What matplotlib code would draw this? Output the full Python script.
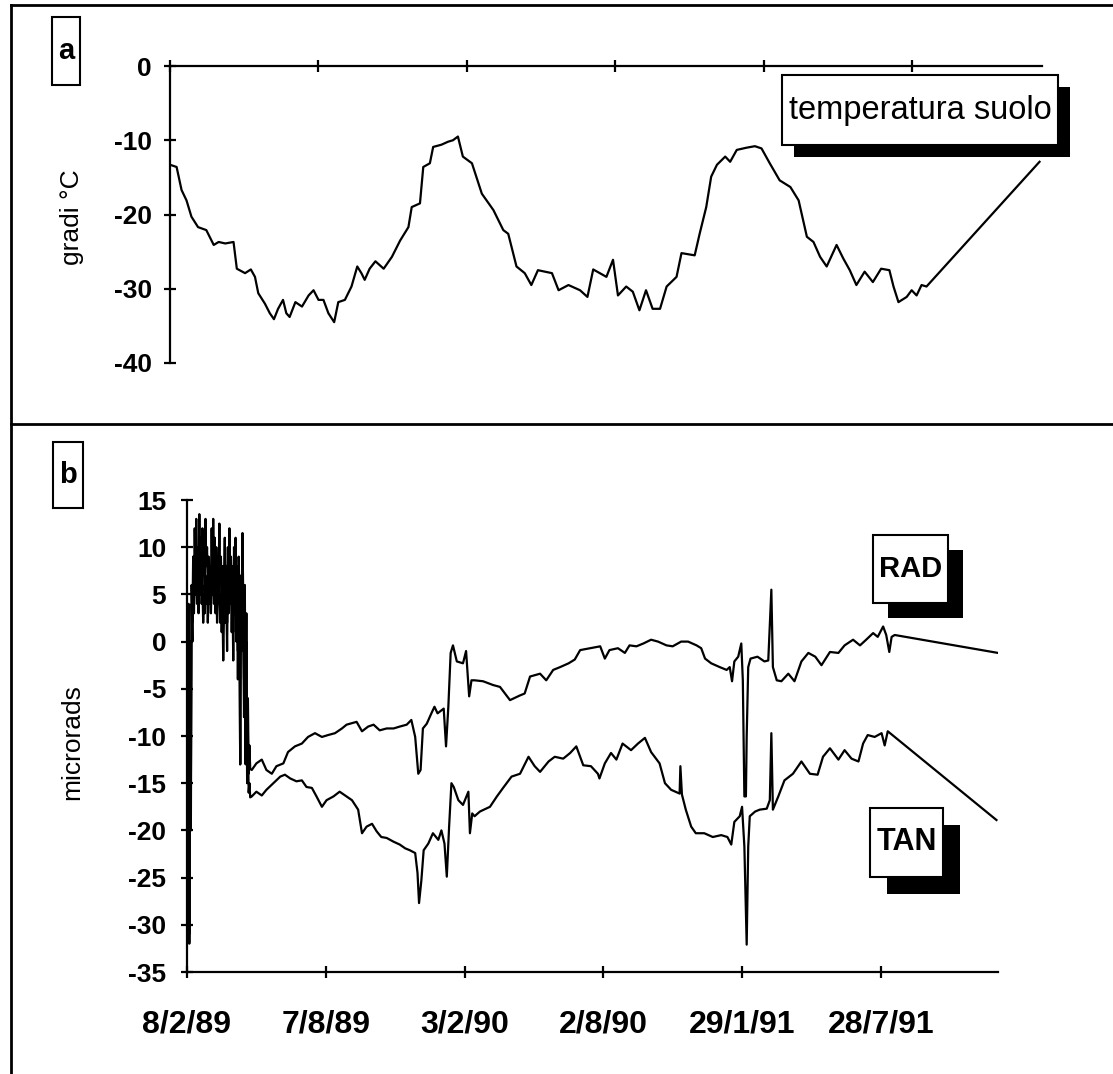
import matplotlib
matplotlib.use('Agg')
import matplotlib.pyplot as plt
from matplotlib.patches import Rectangle
from matplotlib.lines import Line2D

plt.rcParams['font.family'] = ['Liberation Sans', 'DejaVu Sans']
plt.rcParams['axes.unicode_minus'] = False

# ---------------- data (days since 8/2/89) ----------------
tick_days = [0, 180, 360, 540, 720, 900]
tick_labels = ['8/2/89', '7/8/89', '3/2/90', '2/8/90', '29/1/91', '28/7/91']
temp_ticks = [0, -10, -20, -30, -40]
micro_ticks = [15, 10, 5, 0, -5, -10, -15, -20, -25, -30, -35]

temp_day = [0, 8, 14, 20, 26, 34, 44, 53, 59, 67,
            77, 81, 91, 98, 103, 107, 115, 121, 126, 131,
            137, 141, 145, 152, 160, 168, 174, 180, 186, 192,
            199, 204, 212, 220, 227, 232, 236, 242, 249, 259,
            269, 279, 289, 293, 303, 307, 315, 319, 329, 337,
            343, 349, 355, 366, 378, 392, 404, 410, 420, 430,
            438, 446, 463, 471, 483, 497, 506, 513, 521, 529,
            537, 543, 553, 561, 569, 577, 585, 594, 602, 614,
            620, 636, 642, 650, 656, 663, 673, 679, 687, 699,
            709, 717, 727, 739, 752, 762, 772, 780, 788, 796,
            808, 816, 824, 832, 842, 852, 862, 872, 877, 883,
            893, 899, 905, 911, 917, 1054]
temp_val = [-13.3, -13.6, -16.7, -18.1, -20.3, -21.7, -22.1, -24.1, -23.7, -23.9,
            -23.7, -27.3, -27.9, -27.4, -28.4, -30.6, -32.0, -33.3, -34.1, -32.7,
            -31.5, -33.3, -33.8, -31.8, -32.4, -30.9, -30.2, -31.5, -31.5, -33.3,
            -34.5, -31.8, -31.5, -29.7, -27.0, -27.9, -28.8, -27.3, -26.3, -27.3,
            -25.7, -23.5, -21.7, -19.0, -18.5, -13.6, -13.1, -10.9, -10.6, -10.2,
            -10.0, -9.5, -12.2, -13.1, -17.2, -19.4, -22.1, -22.6, -27.0, -27.9,
            -29.5, -27.5, -27.9, -30.2, -29.5, -30.2, -31.1, -27.4, -27.9, -28.4,
            -26.1, -30.9, -29.7, -30.4, -32.9, -30.2, -32.7, -32.7, -29.7, -28.4,
            -25.2, -25.5, -22.6, -19.0, -14.9, -13.3, -12.2, -12.9, -11.3, -11.0,
            -10.8, -11.1, -13.1, -15.4, -16.3, -18.1, -23.0, -23.7, -25.7, -27.0,
            -24.1, -25.9, -27.5, -29.5, -27.7, -29.1, -27.3, -27.5, -29.7, -31.8,
            -31.1, -30.2, -30.9, -29.5, -29.7, -12.9]

rad_day = [0, 1, 2, 3, 4, 5, 6, 7, 8, 9,
           10, 11, 12, 13, 14, 15, 16, 17, 18, 19,
           20, 21, 22, 23, 24, 25, 26, 27, 28, 29,
           30, 31, 32, 33, 34, 35, 36, 37, 38, 39,
           40, 41, 42, 43, 44, 45, 46, 47, 48, 49,
           50, 51, 52, 53, 54, 55, 56, 57, 58, 59,
           60, 61, 62, 63, 64, 65, 66, 67, 68, 69,
           70, 71, 72, 73, 74, 75, 76, 77, 78, 79,
           80, 81, 82, 84, 90, 97, 103, 110, 116, 125,
           131, 140, 149, 157, 166, 175, 183, 192, 201, 207,
           220, 227, 235, 242, 250, 259, 268, 276, 285, 291,
           296, 300, 303, 306, 311, 317, 321, 325, 333, 336,
           339, 342, 345, 350, 358, 362, 366, 369, 373, 384,
           397, 406, 419, 432, 438, 445, 458, 466, 475, 484,
           495, 503, 510, 523, 536, 542, 548, 559, 568, 574,
           583, 592, 602, 611, 622, 630, 641, 650, 661, 667,
           672, 680, 691, 700, 704, 707, 710, 715, 719, 721,
           723, 725, 726, 728, 731, 740, 749, 754, 758, 760,
           765, 771, 780, 788, 797, 806, 815, 823, 834, 845,
           853, 864, 873, 881, 890, 896, 903, 907, 911, 914,
           918, 1052]
rad_val = [-2, -24, 4, -32, 0, -20, 6, 2, 9, 5,
           12, 7, 13, 6, 10, 7, 13.5, 8, 11, 6,
           12, 7, 9, 5, 13, 8, 10, 6, 9, 4,
           8, 6, 12, 7, 13, 8, 11, 6, 10, 5,
           9, 7, 12.5, 6, 9, 4, 8, 3, 7, 11,
           5, 8, 2, 10, 6, 12, 7, 9, 4, 8,
           1, 10, 6, 11, 3, 8, -1, 9, 5, -13,
           7, 2, 11.5, 4, -4, 6, -10, 3, -13, -6,
           -14, -11, -13.5, -13.6, -12.9, -12.5, -13.6, -14.0, -13.2, -12.9,
           -11.7, -11.1, -10.8, -10.1, -9.7, -10.1, -9.9, -9.7, -9.2, -8.8,
           -8.5, -9.5, -9.0, -8.8, -9.4, -9.2, -9.2, -9.0, -8.8, -8.3,
           -10.1, -14.0, -13.6, -9.2, -8.7, -7.6, -6.9, -7.6, -7.1, -11.1,
           -6.9, -1.2, -0.4, -2.1, -2.3, -1.0, -5.8, -4.1, -4.1, -4.2,
           -4.6, -4.8, -6.2, -5.7, -5.5, -3.7, -3.4, -4.1, -3.0, -2.7,
           -2.3, -1.9, -0.9, -0.7, -0.5, -1.8, -0.9, -0.7, -1.2, -0.4,
           -0.5, -0.2, 0.2, 0.0, -0.4, -0.5, 0.0, 0.0, -0.4, -0.7,
           -1.8, -2.3, -2.7, -3.0, -2.7, -4.2, -2.1, -1.6, -0.2, -4.1,
           -16.4, -16.4, -10.1, -2.7, -1.8, -1.6, -2.1, -2.0, 5.5, -2.7,
           -4.1, -4.2, -3.4, -4.2, -2.1, -1.2, -1.6, -2.5, -1.1, -1.2,
           -0.4, 0.2, -0.4, 0.2, 0.9, 0.5, 1.6, 0.7, -1.1, 0.5,
           0.7, -1.2]

tan_day = [0, 1, 2, 3, 4, 5, 6, 7, 8, 9,
           10, 11, 12, 13, 14, 15, 16, 17, 18, 19,
           20, 21, 22, 23, 24, 25, 26, 27, 28, 29,
           30, 31, 32, 33, 34, 35, 36, 37, 38, 39,
           40, 41, 42, 43, 44, 45, 46, 47, 48, 49,
           50, 51, 52, 53, 54, 55, 56, 57, 58, 59,
           60, 61, 62, 63, 64, 65, 66, 67, 68, 69,
           70, 71, 72, 73, 74, 75, 76, 77, 78, 79,
           80, 81, 82, 84, 90, 97, 103, 112, 121, 127,
           134, 142, 149, 155, 162, 168, 175, 181, 190, 198,
           205, 214, 222, 227, 233, 240, 246, 252, 259, 268,
           276, 283, 289, 296, 299, 301, 304, 307, 313, 319,
           326, 330, 334, 337, 340, 343, 346, 352, 358, 365,
           367, 370, 373, 380, 393, 402, 410, 421, 432, 443,
           451, 458, 469, 477, 488, 497, 505, 514, 524, 533,
           535, 542, 550, 557, 565, 576, 585, 594, 602, 613,
           620, 628, 639, 640, 642, 647, 654, 660, 671, 682,
           693, 701, 706, 710, 717, 720, 723, 726, 728, 730,
           737, 743, 752, 756, 758, 760, 767, 775, 786, 797,
           808, 818, 825, 834, 845, 853, 862, 871, 877, 883,
           892, 901, 905, 909, 1050]
tan_val = [-5, -28, 2, -31, -2, -15, 4, 0, 6, 3,
           7, 5, 8, 4, 6, 3, 7, 5, 8, 4,
           6, 2, 5, 3, 7, 4, 6, 2, 5, 4,
           7, 3, 6, 5, 8, 4, 6, 3, 7, 2,
           5, 4, 7, 2, 5, 1, 4, -2, 3, 6,
           2, 5, -1, 7, 3, 8, 4, 6, 1, 5,
           -2, 6, 3, 7, 0, 5, -4, 6, 2, -13,
           4, -1, 7, 1, -8, 3, -13, 0, -15, -10,
           -16, -15, -16.5, -16.4, -15.9, -16.3, -15.7, -15.0, -14.3, -14.1,
           -14.5, -14.8, -14.7, -15.4, -15.5, -16.4, -17.5, -16.8, -16.4, -15.9,
           -16.3, -16.8, -17.8, -20.3, -19.6, -19.3, -20.1, -20.7, -20.8, -21.2,
           -21.5, -21.9, -22.1, -22.4, -24.5, -27.7, -25.3, -22.1, -21.4, -20.3,
           -21.0, -20.0, -21.4, -24.9, -19.6, -15.0, -15.4, -16.8, -17.3, -15.9,
           -20.3, -18.2, -18.5, -18.0, -17.5, -16.4, -15.5, -14.3, -14.0, -12.2,
           -13.2, -13.8, -12.7, -12.2, -12.4, -11.8, -11.1, -13.1, -13.2, -14.0,
           -14.5, -12.9, -11.8, -12.5, -10.8, -11.5, -10.8, -10.2, -11.7, -12.9,
           -15.0, -15.7, -16.1, -13.2, -16.2, -17.8, -19.6, -20.3, -20.3, -20.7,
           -20.5, -20.7, -21.5, -19.1, -18.5, -17.5, -21.7, -32.1, -21.7, -18.5,
           -18.0, -17.8, -17.7, -16.8, -9.7, -17.8, -16.4, -14.7, -14.0, -12.7,
           -14.0, -14.1, -12.2, -11.3, -12.5, -11.5, -12.4, -12.7, -10.8, -9.9,
           -10.1, -9.7, -11.0, -9.5, -18.9]

# ---------------- layout helpers (pixels) ----------------
W, H = 1113, 1074
fig = plt.figure(figsize=(W / 100, H / 100), dpi=100)


def fx(px):
    return px / W


def fy(py):
    return 1 - py / H


def axes_px(x0, y0, x1, y1):
    return [fx(x0), fy(y1), (x1 - x0) / W, (y1 - y0) / H]


tick_font = dict(fontsize=19, fontweight='bold')

# ---------------- panel a ----------------
ax_a = fig.add_axes(axes_px(170, 66, 1042, 363))
ax_a.plot(temp_day, temp_val, color='black', lw=1.6)
ax_a.set_xlim(0, 1057)
ax_a.set_ylim(-40, 0)
for s in ['bottom', 'right']:
    ax_a.spines[s].set_visible(False)
for s in ['top', 'left']:
    ax_a.spines[s].set_linewidth(1.6)
ax_a.xaxis.set_ticks_position('top')
ax_a.set_xticks(tick_days)
ax_a.set_xticklabels([])
ax_a.set_yticks(temp_ticks)
ax_a.set_yticklabels([str(t) for t in temp_ticks], **tick_font)
ax_a.tick_params(axis='both', direction='inout', length=8, width=1.6, pad=9)
ax_a.patch.set_alpha(0)

# ---------------- panel b ----------------
ax_b = fig.add_axes(axes_px(187, 500, 998, 972))
ax_b.plot(rad_day, rad_val, color='black', lw=1.6)
ax_b.plot(tan_day, tan_val, color='black', lw=1.6)
ax_b.set_xlim(0, 1052)
ax_b.set_ylim(-35, 15)
for s in ['top', 'right']:
    ax_b.spines[s].set_visible(False)
for s in ['bottom', 'left']:
    ax_b.spines[s].set_linewidth(1.6)
ax_b.set_xticks(tick_days)
ax_b.set_xticklabels(tick_labels, fontsize=23, fontweight='bold')
ax_b.set_yticks(micro_ticks)
ax_b.set_yticklabels([str(t) for t in micro_ticks], **tick_font)
ax_b.tick_params(axis='y', direction='inout', length=8, width=1.6, pad=11)
ax_b.tick_params(axis='x', direction='inout', length=8, width=1.6, pad=23)
ax_b.patch.set_alpha(0)

# ---------------- axis titles ----------------
fig.text(fx(72), fy(217), 'gradi °C', rotation=90, ha='center', va='center', fontsize=19)
fig.text(fx(72), fy(742), 'microrads', rotation=90, ha='center', va='center', fontsize=19)

# ---------------- frame lines ----------------
frame_kw = dict(color='black', lw=2, transform=fig.transFigure)
fig.add_artist(Line2D([fx(11), fx(11)], [fy(5), fy(1074)], **frame_kw))
fig.add_artist(Line2D([fx(11), fx(1113)], [fy(5), fy(5)], **frame_kw))
fig.add_artist(Line2D([fx(11), fx(1113)], [fy(424), fy(424)], **frame_kw))


def box(x0, y0, x1, y1, text, shadow=0, fontsize=20, weight='bold'):
    if shadow:
        fig.add_artist(Rectangle((fx(x0 + shadow), fy(y1 + shadow)), (x1 - x0) / W, (y1 - y0) / H,
                                 transform=fig.transFigure, facecolor='black', edgecolor='black', lw=0))
    fig.add_artist(Rectangle((fx(x0), fy(y1)), (x1 - x0) / W, (y1 - y0) / H,
                             transform=fig.transFigure, facecolor='white', edgecolor='black', lw=1.5))
    fig.text(fx((x0 + x1) / 2), fy((y0 + y1) / 2), text, ha='center', va='center',
             fontsize=fontsize, fontweight=weight)


box(52, 17, 80, 85, 'a', fontsize=21)
box(53, 442, 83, 508, 'b', fontsize=21)
box(782, 75, 1058, 145, 'temperatura suolo', shadow=12, fontsize=23.5, weight='normal')
box(873, 535, 948, 603, 'RAD', shadow=15, fontsize=21)
box(870, 808, 943, 877, 'TAN', shadow=17, fontsize=22)

fig.savefig('out.png', dpi=100, facecolor='white')
